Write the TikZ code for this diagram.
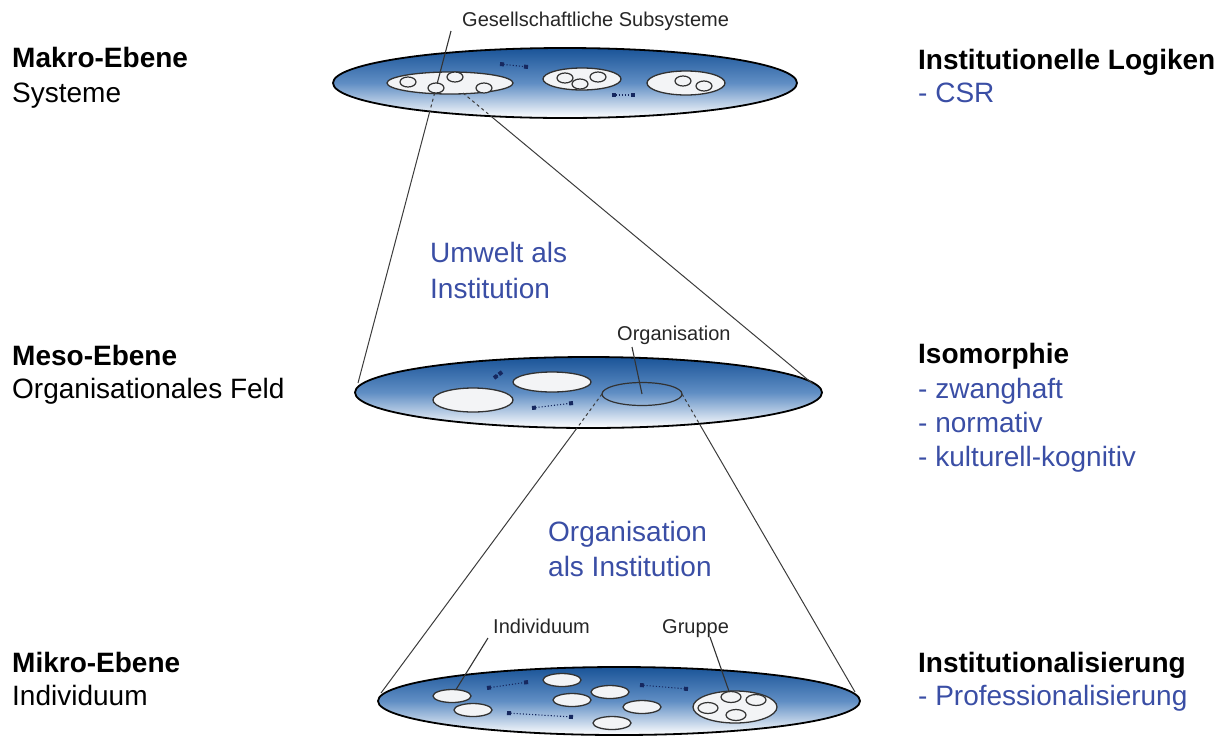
\documentclass[tikz,border=0pt]{standalone}
\usepackage{fontspec}
\setmainfont{Liberation Sans}
\usetikzlibrary{shapes.geometric,arrows.meta}

\definecolor{disktop}{RGB}{26,84,152}
\definecolor{diskmid}{RGB}{96,142,196}
\definecolor{labelblue}{RGB}{58,78,165}
\definecolor{dotnavy}{RGB}{22,40,95}
\definecolor{conegray}{RGB}{60,60,60}
\definecolor{cellfill}{RGB}{243,244,246}
\definecolor{celledge}{RGB}{50,50,50}

\tikzset{
  disk/.style={ellipse, inner sep=0pt, outer sep=0pt, draw=black, line width=1.8pt,
    top color=disktop, bottom color=white, middle color=diskmid},
  cell/.style={ellipse, inner sep=0pt, outer sep=0pt, draw=celledge, line width=1.3pt, fill=cellfill},
  ring/.style={ellipse, inner sep=0pt, outer sep=0pt, draw=celledge, line width=1.2pt},
  tiny/.style={ellipse, inner sep=0pt, outer sep=0pt, draw=celledge, line width=1.2pt,
    fill=cellfill, minimum width=16pt, minimum height=10pt},
  lvlhead/.style={anchor=base west, inner sep=0pt, font=\fontsize{28}{34}\selectfont\bfseries},
  lvlsub/.style={anchor=base west, inner sep=0pt, font=\fontsize{28}{34}\selectfont},
  bluetxt/.style={anchor=base west, inner sep=0pt, text=labelblue, font=\fontsize{28}{34}\selectfont},
  tag/.style={anchor=base west, inner sep=0pt, text=black!85, font=\fontsize{20}{24}\selectfont},
  cone/.style={draw=conegray, line width=1pt},
  hidden/.style={draw=conegray, line width=1pt, dash pattern=on 3pt off 3pt},
  leader/.style={draw=black!80, line width=1.1pt},
  link/.style={draw=dotnavy, line width=1.1pt, dotted,
    {Square[length=4pt,width=4pt]}-{Square[length=4pt,width=4pt]}}
}

\begin{document}
\begin{tikzpicture}[x=1pt, y=-1pt]
\path[use as bounding box] (0,0) rectangle (1230,737);

% ---------- three levels ----------
\node[disk, minimum width=464pt, minimum height=70pt] (macro) at (565,83) {};
\node[disk, minimum width=467pt, minimum height=71pt] (meso) at (588.5,392.5) {};
\node[disk, minimum width=482pt, minimum height=68pt] (micro) at (619,701) {};

% ---------- macro level: societal subsystems ----------
\node[cell, minimum width=126pt, minimum height=22pt] (sys1) at (450,83) {};
\node[cell, minimum width=78pt, minimum height=22pt] (sys2) at (582,79) {};
\node[cell, minimum width=78pt, minimum height=24pt] (sys3) at (686,83) {};
\node[tiny] (c11) at (408,82) {};
\node[tiny] (c12) at (436,88) {};
\node[tiny] (c13) at (455,77) {};
\node[tiny] (c14) at (484,88) {};
\node[tiny] (c21) at (565,78) {};
\node[tiny] (c22) at (580,84) {};
\node[tiny] (c23) at (598,77) {};
\node[tiny] (c31) at (683,81) {};
\node[tiny] (c32) at (704,86) {};
\coordinate (a1s) at (500,64);
\coordinate (a1e) at (528,67);
\coordinate (a2s) at (612,95);
\coordinate (a2e) at (635,95);
\draw[link] (a1s) -- (a1e);
\draw[link] (a2s) -- (a2e);

% ---------- meso level: organisational field ----------
\node[cell, minimum width=80pt, minimum height=24pt] (fld1) at (473,400) {};
\node[cell, minimum width=78pt, minimum height=20pt] (fld2) at (552,382) {};
\node[ring, minimum width=80pt, minimum height=23pt] (org) at (642,394) {};
\coordinate (a3s) at (494,378);
\coordinate (a3e) at (502,372);
\coordinate (a4s) at (532,408);
\coordinate (a4e) at (573,403);
\draw[link] (a3s) -- (a3e);
\draw[link] (a4s) -- (a4e);

% ---------- micro level: individuals and groups ----------
\node[cell, minimum width=38pt, minimum height=13pt] (ind1) at (452,696) {};
\node[cell, minimum width=38pt, minimum height=13pt] (ind2) at (473,710) {};
\node[cell, minimum width=38pt, minimum height=13pt] (ind3) at (562,680) {};
\node[cell, minimum width=38pt, minimum height=13pt] (ind4) at (572,700) {};
\node[cell, minimum width=38pt, minimum height=13pt] (ind5) at (610,692) {};
\node[cell, minimum width=38pt, minimum height=13pt] (ind6) at (642,707) {};
\node[cell, minimum width=38pt, minimum height=13pt] (ind7) at (612,723) {};
\node[cell, minimum width=84pt, minimum height=32pt] (grp) at (735,707) {};
\node[tiny, minimum width=20pt, minimum height=11pt] (g1) at (731,697) {};
\node[tiny, minimum width=20pt, minimum height=11pt] (g2) at (756,700) {};
\node[tiny, minimum width=20pt, minimum height=11pt] (g3) at (708,708) {};
\node[tiny, minimum width=20pt, minimum height=11pt] (g4) at (736,715) {};
\coordinate (a5s) at (487,688);
\coordinate (a5e) at (528,682);
\coordinate (a6s) at (507,713);
\coordinate (a6e) at (573,717);
\coordinate (a7s) at (640,685);
\coordinate (a7e) at (688,689);
\draw[link] (a5s) -- (a5e);
\draw[link] (a6s) -- (a6e);
\draw[link] (a7s) -- (a7e);

% ---------- cone from subsystem to field ----------
\coordinate (gsl) at (451,31);
\coordinate (x1) at (429.6,112);
\coordinate (mL) at (358,383);
\coordinate (s1b) at (463,93);
\coordinate (x2) at (490.7,116);
\coordinate (mR) at (813,384);
\draw[leader] (gsl) -- (c12);
\draw[hidden] (c12) -- (x1);
\draw[cone] (x1) -- (mL);
\draw[hidden] (s1b) -- (x2);
\draw[cone] (x2) -- (mR);

% ---------- cone from organisation to individuals ----------
\coordinate (x3) at (577,428);
\coordinate (bL) at (381,693);
\coordinate (x4) at (699.5,424);
\coordinate (bR) at (855,692);
\draw[hidden] (org.west) -- (x3);
\draw[cone] (x3) -- (bL);
\draw[hidden] (org.east) -- (x4);
\draw[cone] (x4) -- (bR);

% ---------- small tags with leaders ----------
\node[tag] (gs) at (462,26) {Gesellschaftliche Subsysteme};
\node[tag] (orgt) at (617,340) {Organisation};
\coordinate (orgl) at (632,347);
\draw[leader] (orgl) -- (org.center);
\node[tag] (indt) at (493,633) {Individuum};
\coordinate (indl) at (488,638);
\draw[leader] (indl) -- (ind1);
\node[tag] (grpt) at (662,633) {Gruppe};
\coordinate (grpl) at (710,637);
\draw[leader] (grpl) -- (g1);

% ---------- centre captions ----------
\node[bluetxt] (umw1) at (430,262) {Umwelt als};
\node[bluetxt] (umw2) at (430,298) {Institution};
\node[bluetxt] (orgi1) at (548,541) {Organisation};
\node[bluetxt] (orgi2) at (548,576) {als Institution};

% ---------- left column ----------
\node[lvlhead] (mak) at (12,67) {Makro-Ebene};
\node[lvlsub] (maks) at (12,102) {Systeme};
\node[lvlhead] (mes) at (12,365) {Meso-Ebene};
\node[lvlsub] (mess) at (12,398) {Organisationales Feld};
\node[lvlhead] (mik) at (12,672) {Mikro-Ebene};
\node[lvlsub] (miks) at (12,705) {Individuum};

% ---------- right column ----------
\node[lvlhead] (log) at (918,69) {Institutionelle Logiken};
\node[bluetxt] (log1) at (918,102) {- CSR};
\node[lvlhead] (iso) at (918,363) {Isomorphie};
\node[bluetxt] (iso1) at (918,398) {- zwanghaft};
\node[bluetxt] (iso2) at (918,432) {- normativ};
\node[bluetxt] (iso3) at (918,466) {- kulturell-kognitiv};
\node[lvlhead] (ins) at (918,672) {Institutionalisierung};
\node[bluetxt] (ins1) at (918,705) {- Professionalisierung};
\end{tikzpicture}
\end{document}
